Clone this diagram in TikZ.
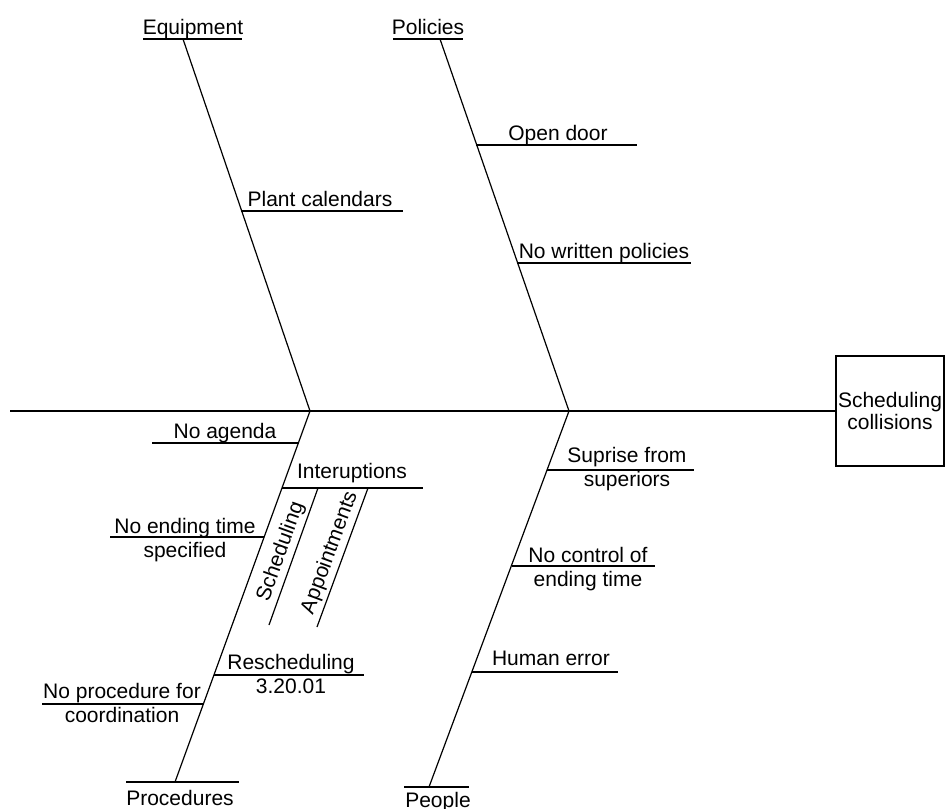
\documentclass[tikz,border=0pt]{standalone}
\usepackage{fontspec}
\setmainfont{Liberation Sans}
\usepackage{tikz}

\tikzset{
  os/.style={line width=1.2pt},
  cause/.style={anchor=base, inner sep=0pt, align=center, font=\fontsize{21}{24}\selectfont},
  souscause/.style={inner sep=3pt, font=\fontsize{21}{24}\selectfont},
}

\begin{document}
\begin{tikzpicture}[x=1pt, y=-1pt]
\useasboundingbox (0,0) rectangle (946,809);

% L'effet (la boîte de droite)
\node[draw, os, minimum width=108pt, minimum height=110pt, inner sep=0pt, align=center,
      font=\fontsize{21}{22}\selectfont] (effet) at (890,411) {Scheduling\\collisions};

% L'arête centrale
\coordinate (queue) at (10,411);
\coordinate (J1) at (310,411);
\coordinate (J2) at (569,411);
\draw[os] (queue) -- (effet.west);

% Les catégories
\node[cause] (equipement) at (193,34) {Equipment};
\node[cause] (politiques) at (428,34) {Policies};
\node[cause] (procedures) at (180,805) {Procedures};
\node[cause] (personnes) at (438,807) {People};

\coordinate (E1) at (143,39);  \coordinate (E2) at (242,39);  \coordinate (Eo) at (183,39);
\coordinate (P1) at (393,39);  \coordinate (P2) at (463,39);  \coordinate (Po) at (440,39);
\coordinate (R1) at (126,782); \coordinate (R2) at (239,782); \coordinate (Ro) at (175,782);
\coordinate (H1) at (404,787); \coordinate (H2) at (469,787); \coordinate (Ho) at (429,787);

\draw[os] (E1) -- (E2);
\draw[os] (P1) -- (P2);
\draw[os] (R1) -- (R2);
\draw[os] (H1) -- (H2);

% Les arêtes des catégories
\draw[os] (Eo) -- (J1);
\draw[os] (Po) -- (J2);
\draw[os] (J1) -- (Ro);
\draw[os] (J2) -- (Ho);

% Les causes (yt = ligne de base de la dernière ligne)
\foreach \n/\xa/\xb/\y/\xt/\yt/\txt in {
  1/241/403/211/320/206/{Plant calendars},
  2/476/637/145/558/140/{Open door},
  3/517/691/263/604/258/{No written policies},
  4/152/299/443/225/438/{No agenda},
  5/282/423/488/352/478/{Interuptions},
  6/110/264/537/185/557/{No ending time\\specified},
  7/214/364/675/291/693/{Rescheduling\\3.20.01},
  8/42/203/704/122/722/{No procedure for\\coordination},
  9/547/694/470/627/486/{Suprise from\\superiors},
  10/512/655/566/588/586/{No control of\\ending time},
  11/472/618/672/551/665/{Human error}}
{
  \coordinate (c\n a) at (\xa,\y);
  \coordinate (c\n b) at (\xb,\y);
  \draw[os] (c\n a) -- (c\n b);
  \node[cause] (t\n) at (\xt,\yt) {\txt};
}

% Les sous-causes
\coordinate (s1a) at (269,625); \coordinate (s1b) at (318,488);
\coordinate (s2a) at (317,627); \coordinate (s2b) at (368,488);
\draw[os] (s1a) -- (s1b) node[souscause, midway, sloped, above] (u1) {Scheduling};
\draw[os] (s2a) -- (s2b) node[souscause, midway, sloped, above] (u2) {Appointments};

\end{tikzpicture}
\end{document}
